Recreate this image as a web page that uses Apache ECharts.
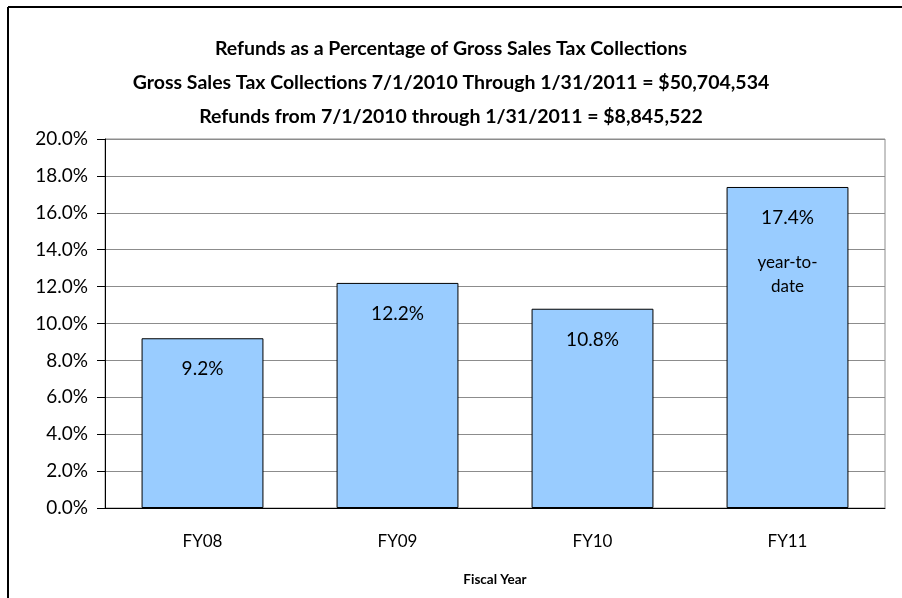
<!DOCTYPE html>
<html>
<head>
<meta charset="utf-8">
<script src="https://cdn.jsdelivr.net/npm/echarts@6/dist/echarts.min.js"></script>
<style>
  html, body { margin: 0; padding: 0; background: #fff; }
  #chart { width: 902px; height: 598px; }
</style>
</head>
<body>
<div id="chart"></div>
<script>
const categories = ['FY08', 'FY09', 'FY10', 'FY11']
const refundPct = [9.2, 12.2, 10.8, 17.4]
const barNotes = ['', '', '', 'year-to-\ndate']
const titleLines = [
  'Refunds as a Percentage of Gross Sales Tax Collections',
  'Gross Sales Tax Collections 7/1/2010 Through 1/31/2011 = $50,704,534',
  'Refunds from 7/1/2010 through 1/31/2011 = $8,845,522'
]

const chart = echarts.init(document.getElementById('chart'), null, { renderer: 'canvas' })
const fontFam = 'Lato, "Open Sans", sans-serif'

chart.setOption({
  animation: false,
  backgroundColor: '#fff',
  textStyle: { fontFamily: fontFam },
  title: {
    text: titleLines.join('\n'),
    left: 'center',
    top: 27,
    textStyle: { fontSize: 19.5, fontWeight: 'bold', color: '#000', lineHeight: 34, fontFamily: fontFam }
  },
  graphic: [
    { type: 'line', shape: { x1: 8, y1: 7, x2: 902, y2: 7 }, style: { stroke: '#000', lineWidth: 2 } },
    { type: 'line', shape: { x1: 8, y1: 7, x2: 8, y2: 598 }, style: { stroke: '#000', lineWidth: 2 } }
  ],
  grid: {
    left: 105,
    right: 17,
    top: 139,
    bottom: 90,
    show: true,
    borderColor: '#8c8c8c',
    borderWidth: 1
  },
  xAxis: {
    type: 'category',
    data: categories,
    name: 'Fiscal Year',
    nameLocation: 'middle',
    nameGap: 65,
    nameTextStyle: { fontSize: 13.5, fontWeight: 'bold', color: '#000' },
    axisLine: { lineStyle: { color: '#000' } },
    axisTick: { length: 8, lineStyle: { color: '#000' } },
    axisLabel: { fontSize: 17, color: '#000', margin: 25 }
  },
  yAxis: {
    type: 'value',
    min: 0,
    max: 20,
    interval: 2,
    axisLine: { show: true, lineStyle: { color: '#000' } },
    axisTick: { show: true, length: 8, lineStyle: { color: '#000' } },
    axisLabel: { fontSize: 19, color: '#000', margin: 17, formatter: v => v.toFixed(1) + '%' },
    splitLine: { lineStyle: { color: '#8c8c8c' } }
  },
  series: [{
    type: 'bar',
    data: refundPct,
    barWidth: '62.5%',
    itemStyle: { color: '#99ccff', borderColor: '#000', borderWidth: 1 },
    label: {
      show: true,
      position: 'insideTop',
      distance: 19,
      color: '#000',
      fontSize: 19,
      lineHeight: 24,
      formatter: p => {
        const val = p.value.toFixed(1) + '%'
        const note = barNotes[p.dataIndex]
        if (!note) return val
        return val + '\n{gap|}\n' + note.split('\n').map(s => '{note|' + s + '}').join('\n')
      },
      rich: {
        gap: { lineHeight: 21 },
        note: { fontSize: 17, lineHeight: 24, color: '#000', fontFamily: fontFam }
      }
    }
  }]
})
</script>
</body>
</html>
